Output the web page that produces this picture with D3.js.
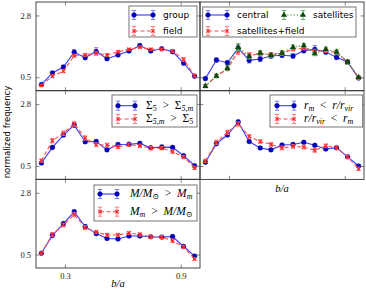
<!DOCTYPE html>
<html>
<head>
<meta charset="utf-8">
<script src="https://cdn.jsdelivr.net/npm/d3@7"></script>
<style>
  body { margin: 0; background: #fff; }
  svg { display: block; }
</style>
</head>
<body>
<svg id="chart" width="366" height="289"></svg>
<script>
/*----------------------------------------------------------------------
----- DATA (normalized frequency of b/a, 15 bins between 0.15 and 1.0)
----------------------------------------------------------------------*/
const binCenters = [0.178, 0.235, 0.292, 0.348, 0.405, 0.462, 0.518, 0.575,
                    0.632, 0.688, 0.745, 0.802, 0.858, 0.915, 0.972];
const xTicks = [0.3, 0.9];
const yTicks = [0.5, 2.8];

// panel 1: group vs field
const groupFreq = [0.23, 0.66, 0.88, 1.43, 1.23, 1.46, 1.19, 1.33, 1.48, 1.68, 1.48, 1.56, 1.45, 1.03, 0.54];
const groupErr  = [0.04, 0.06, 0.06, 0.10, 0.07, 0.14, 0.06, 0.06, 0.05, 0.06, 0.06, 0.05, 0.05, 0.08, 0.04];
const fieldFreq = [0.20, 0.54, 0.73, 1.30, 1.33, 1.40, 1.33, 1.45, 1.54, 1.62, 1.54, 1.54, 1.48, 1.16, 0.56];
const fieldErr  = [0.04, 0.06, 0.06, 0.06, 0.05, 0.05, 0.05, 0.04, 0.04, 0.04, 0.04, 0.04, 0.05, 0.07, 0.05];

// panel 2: central, satellites+field, satellites
const centralFreq  = [0.45, 1.14, 1.04, 1.58, 1.13, 1.18, 1.29, 1.32, 1.29, 1.49, 1.54, 1.44, 1.24, 1.07, 0.47];
const centralErr   = [0.05, 0.08, 0.08, 0.12, 0.10, 0.10, 0.08, 0.08, 0.08, 0.08, 0.14, 0.08, 0.08, 0.08, 0.05];
const satFieldFreq = [0.17, 0.55, 0.80, 1.45, 1.32, 1.38, 1.35, 1.40, 1.54, 1.58, 1.48, 1.48, 1.42, 1.07, 0.47];
const satFieldErr  = [0.05, 0.06, 0.06, 0.10, 0.10, 0.08, 0.07, 0.07, 0.06, 0.06, 0.06, 0.06, 0.07, 0.08, 0.05];
const satFreq      = [0.17, 0.55, 0.84, 1.62, 1.28, 1.40, 1.32, 1.40, 1.62, 1.68, 1.38, 1.54, 1.44, 1.07, 0.50];
const satErr       = [0.06, 0.07, 0.08, 0.13, 0.10, 0.09, 0.08, 0.08, 0.08, 0.08, 0.08, 0.08, 0.10, 0.09, 0.06];

// panel 3: local density Sigma_5
const sigHighFreq = [0.61, 1.19, 1.65, 2.02, 1.40, 1.41, 1.10, 1.30, 1.31, 1.34, 1.18, 1.20, 1.19, 0.88, 0.51];
const sigHighErr  = [0.04, 0.05, 0.06, 0.07, 0.06, 0.06, 0.05, 0.05, 0.05, 0.05, 0.05, 0.08, 0.05, 0.05, 0.04];
const sigLowFreq  = [0.70, 1.44, 1.72, 2.07, 1.54, 1.29, 1.28, 1.21, 1.29, 1.25, 1.16, 1.16, 1.03, 0.83, 0.43];
const sigLowErr   = [0.06, 0.08, 0.08, 0.09, 0.08, 0.07, 0.07, 0.06, 0.06, 0.06, 0.06, 0.06, 0.06, 0.06, 0.06];

// panel 4: halo-centric distance r/r_vir
const rInnerFreq = [0.64, 1.33, 1.65, 2.14, 1.41, 1.17, 1.10, 1.28, 1.30, 1.38, 1.27, 1.13, 1.18, 0.84, 0.50];
const rInnerErr  = [0.04, 0.05, 0.05, 0.06, 0.05, 0.05, 0.05, 0.05, 0.05, 0.05, 0.05, 0.05, 0.05, 0.05, 0.04];
const rOuterFreq = [0.69, 1.38, 1.75, 2.06, 1.60, 1.41, 1.30, 1.17, 1.23, 1.20, 1.08, 1.25, 1.17, 0.84, 0.39];
const rOuterErr  = [0.06, 0.08, 0.08, 0.08, 0.07, 0.07, 0.07, 0.07, 0.07, 0.07, 0.07, 0.07, 0.07, 0.06, 0.06];

// panel 5: halo mass M/M_sun
const mHighFreq = [0.55, 1.21, 1.65, 2.09, 1.54, 1.28, 1.10, 1.08, 1.19, 1.19, 1.16, 1.15, 1.17, 0.80, 0.44];
const mHighErr  = [0.04, 0.05, 0.06, 0.07, 0.06, 0.05, 0.05, 0.05, 0.05, 0.05, 0.05, 0.05, 0.05, 0.05, 0.04];
const mLowFreq  = [0.55, 1.25, 1.60, 1.99, 1.50, 1.34, 1.23, 1.23, 1.30, 1.25, 1.16, 1.15, 1.01, 0.78, 0.34];
const mLowErr   = [0.04, 0.07, 0.07, 0.08, 0.07, 0.06, 0.06, 0.06, 0.06, 0.06, 0.06, 0.06, 0.06, 0.06, 0.05];

/*----------------------------------------------------------------------
----- STYLES AND LAYOUT
----------------------------------------------------------------------*/
const BLUE  = { line: "#3a3aff", err: "#7070ff", mark: "circle",   fill: "#0000c8", stroke: "#00007a", dash: null };
const RED   = { line: "#ff4a4a", err: "#ff7070", mark: "x",        fill: "#ff2020", stroke: "#ff2020", dash: "4,2.5" };
const GREEN = { line: "#2f8f2f", err: "#5aa85a", mark: "triangle", fill: "#0a4a0a", stroke: "#0a4a0a", dash: "1.2,2" };

const SERIF = "'Liberation Serif', 'DejaVu Serif', serif";
const SANS  = "'DejaVu Sans', sans-serif";
const REL = "\u2002";  // wide space around relation signs, as in TeX

const colX = [36, 200];
const colW = 164;
const rowY = [2, 90.7, 179.3];
const rowH = 88.7;

const panels = [
  { col: 0, row: 0, yLabels: true, xLabels: false, xTitle: false,
    series: [
      { vals: groupFreq, errs: groupErr, st: BLUE, label: [{ t: "group" }] },
      { vals: fieldFreq, errs: fieldErr, st: RED,  label: [{ t: "field" }] }
    ],
    legend: { x: 93, y: 4, w: 68, h: 31, rows: [13, 29], cols: [[98, 117, 127]], sans: true } },
  { col: 1, row: 0, yLabels: false, xLabels: false, xTitle: false,
    series: [
      { vals: centralFreq,  errs: centralErr,  st: BLUE,  label: [{ t: "central" }], pos: [0, 0] },
      { vals: satFieldFreq, errs: satFieldErr, st: RED,   label: [{ t: "satellites+field" }], pos: [0, 1] },
      { vals: satFreq,      errs: satErr,      st: GREEN, label: [{ t: "satellites" }], pos: [1, 0] }
    ],
    legend: { x: 2.7, y: 5, w: 153.3, h: 30, rows: [13, 29], cols: [[8, 27, 37], [84, 103, 113]], sans: true } },
  { col: 0, row: 1, yLabels: true, xLabels: false, xTitle: false,
    series: [
      { vals: sigHighFreq, errs: sigHighErr, st: BLUE,
        label: [{ t: "Σ" }, { t: "5", sub: true }, { t: REL + ">" + REL + "Σ" }, { t: "5,m", sub: true, i: true }] },
      { vals: sigLowFreq, errs: sigLowErr, st: RED,
        label: [{ t: "Σ" }, { t: "5,m", sub: true, i: true }, { t: REL + ">" + REL + "Σ" }, { t: "5", sub: true }] }
    ],
    legend: { x: 76, y: 4.3, w: 85, h: 32, rows: [15, 28.3], cols: [[82, 99, 110]] } },
  { col: 1, row: 1, yLabels: false, xLabels: false, xTitle: true,
    series: [
      { vals: rInnerFreq, errs: rInnerErr, st: BLUE,
        label: [{ t: "r", i: true }, { t: "m", sub: true, i: true }, { t: REL + "<" + REL }, { t: "r/r", i: true }, { t: "vir", sub: true, i: true }] },
      { vals: rOuterFreq, errs: rOuterErr, st: RED,
        label: [{ t: "r/r", i: true }, { t: "vir", sub: true, i: true }, { t: REL + "<" + REL }, { t: "r", i: true }, { t: "m", sub: true, i: true }] }
    ],
    legend: { x: 70, y: 4.3, w: 92.7, h: 32, rows: [15, 28.3], cols: [[77, 94, 104]] } },
  { col: 0, row: 2, yLabels: true, xLabels: true, xTitle: true,
    series: [
      { vals: mHighFreq, errs: mHighErr, st: BLUE,
        label: [{ t: "M/M", i: true }, { t: "⊙", sub: true }, { t: REL + ">" + REL }, { t: "M", i: true }, { t: "m", sub: true, i: true }] },
      { vals: mLowFreq, errs: mLowErr, st: RED,
        label: [{ t: "M", i: true }, { t: "m", sub: true, i: true }, { t: REL + ">" + REL }, { t: "M/M", i: true }, { t: "⊙", sub: true }] }
    ],
    legend: { x: 58, y: 5.7, w: 103, h: 36, rows: [14.7, 32.4], cols: [[64, 81, 94]] } }
];

/*----------------------------------------------------------------------
----- DRAWING
----------------------------------------------------------------------*/
const svg = d3.select("#chart");

// Draw one marker of a given style at (cx, cy)
function drawMarker(g, st, cx, cy) {
  if (st.mark === "circle") {
    g.append("circle").attr("cx", cx).attr("cy", cy).attr("r", 2.3)
      .attr("fill", st.fill).attr("stroke", st.stroke).attr("stroke-width", 0.6);
  } else if (st.mark === "triangle") {
    g.append("path").attr("transform", "translate(" + cx + "," + cy + ")")
      .attr("d", d3.symbol().type(d3.symbolTriangle).size(16)())
      .attr("fill", st.fill);
  } else {
    const s = 1.7;
    g.append("path")
      .attr("d", "M" + (cx - s) + "," + (cy - s) + "L" + (cx + s) + "," + (cy + s) +
                 "M" + (cx - s) + "," + (cy + s) + "L" + (cx + s) + "," + (cy - s))
      .attr("stroke", st.stroke).attr("stroke-width", 1.1).attr("fill", "none");
  }
}

// Draw a vertical error bar with caps
function drawErr(g, st, cx, y0, y1) {
  g.append("line").attr("x1", cx).attr("x2", cx).attr("y1", y0).attr("y2", y1)
    .attr("stroke", st.err).attr("stroke-width", 0.9);
  [y0, y1].forEach(function (yy) {
    g.append("line").attr("x1", cx - 2.2).attr("x2", cx + 2.2).attr("y1", yy).attr("y2", yy)
      .attr("stroke", st.err).attr("stroke-width", 0.9);
  });
}

// Write a (math) label built from segments
function writeLabel(g, x, y, segs, sans) {
  const t = g.append("text").attr("x", x).attr("y", y)
    .attr("dominant-baseline", "middle")
    .style("font-family", sans ? SANS : SERIF)
    .style("font-size", sans ? "9px" : "11.5px")
    .attr("fill", "#000");
  let shifted = false;
  segs.forEach(function (s) {
    const sp = t.append("tspan").text(s.t)
      .style("font-style", s.i ? "italic" : "normal");
    if (s.sub) {
      sp.attr("dy", shifted ? 0 : 3).style("font-size", "8px");
      shifted = true;
    } else if (shifted) {
      sp.attr("dy", -3);
      shifted = false;
    }
  });
}

panels.forEach(function (p) {
  const x0 = colX[p.col], y0 = rowY[p.row];
  const g = svg.append("g").attr("transform", "translate(" + x0 + "," + y0 + ")");

  const x = d3.scaleLinear().domain([0.15, 1.0]).range([0, colW]);
  const y = d3.scaleLinear().domain([0, 3.3]).range([rowH, 0]);

  // Axes with inward ticks on all four sides
  const noLabel = function () { return ""; };
  const axB = g.append("g").attr("transform", "translate(0," + rowH + ")")
    .call(d3.axisBottom(x).tickValues(xTicks).tickSize(-3.5).tickPadding(5)
      .tickFormat(p.xLabels ? d3.format(".1f") : noLabel));
  const axT = g.append("g")
    .call(d3.axisTop(x).tickValues(xTicks).tickSize(-3.5).tickFormat(noLabel));
  const axL = g.append("g")
    .call(d3.axisLeft(y).tickValues(yTicks).tickSize(-3.5).tickPadding(5)
      .tickFormat(p.yLabels ? d3.format(".1f") : noLabel));
  const axR = g.append("g").attr("transform", "translate(" + colW + ",0)")
    .call(d3.axisRight(y).tickValues(yTicks).tickSize(-3.5).tickFormat(noLabel));
  [axB, axT, axL, axR].forEach(function (a) {
    a.select(".domain").remove();
    a.selectAll(".tick line").attr("stroke", "#555").attr("stroke-width", 0.7);
    a.selectAll(".tick text").style("font-family", SERIF).style("font-size", "8.5px").attr("fill", "#222");
  });

  // Lines, error bars and markers for every series
  p.series.forEach(function (s) {
    const line = d3.line().x(function (d, i) { return x(binCenters[i]); }).y(function (d) { return y(d); });
    g.append("path").datum(s.vals).attr("d", line)
      .attr("fill", "none").attr("stroke", s.st.line).attr("stroke-width", 1.1)
      .attr("stroke-dasharray", s.st.dash);
    const eg = g.append("g");
    s.vals.forEach(function (v, i) {
      drawErr(eg, s.st, x(binCenters[i]), y(v - s.errs[i]), y(v + s.errs[i]));
    });
    s.vals.forEach(function (v, i) {
      drawMarker(eg, s.st, x(binCenters[i]), y(v));
    });
  });

  // Frame
  g.append("rect").attr("width", colW).attr("height", rowH)
    .attr("fill", "none").attr("stroke", "#333").attr("stroke-width", 0.9);

  // Legend
  const L = p.legend;
  const lg = g.append("g");
  lg.append("rect").attr("x", L.x).attr("y", L.y).attr("width", L.w).attr("height", L.h)
    .attr("fill", "#fff").attr("stroke", "#666").attr("stroke-width", 0.9);
  p.series.forEach(function (s, k) {
    const pos = s.pos || [0, k];
    const c = L.cols[pos[0]], yy = L.rows[pos[1]];
    lg.append("line").attr("x1", c[0]).attr("x2", c[1]).attr("y1", yy).attr("y2", yy)
      .attr("stroke", s.st.line).attr("stroke-width", 1.1).attr("stroke-dasharray", s.st.dash);
    [c[0], c[1]].forEach(function (hx) {
      drawErr(lg, s.st, hx, yy - 4.5, yy + 4.5);
      drawMarker(lg, s.st, hx, yy);
    });
    writeLabel(lg, c[2], yy, s.label, L.sans);
  });

  // x axis title
  if (p.xTitle) {
    const ty = p.xLabels ? rowH + 16.5 : rowH + 10.5;
    g.append("text").attr("x", colW / 2).attr("y", ty)
      .attr("text-anchor", "middle").attr("dominant-baseline", "middle")
      .style("font-family", SERIF).style("font-size", "10.5px").style("font-style", "italic")
      .text("b/a");
  }
});

// Shared y axis title
svg.append("text")
  .attr("transform", "translate(10,132) rotate(-90)")
  .attr("text-anchor", "middle")
  .style("font-family", SANS).style("font-size", "8.5px")
  .text("normalized frequency");
</script>
</body>
</html>
